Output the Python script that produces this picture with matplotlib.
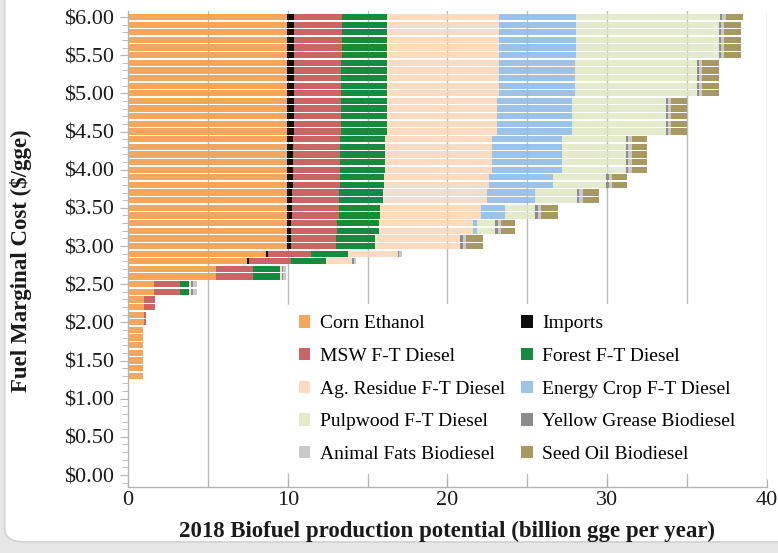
import numpy as np
import matplotlib.pyplot as plt
from matplotlib.patches import FancyBboxPatch
from matplotlib.ticker import MultipleLocator, FuncFormatter

# marginal cost steps ($/gge), top bar first
prices = [6.00, 5.90, 5.80, 5.70, 5.60, 5.50, 5.40, 5.30, 5.20, 5.10, 5.00,
          4.90, 4.80, 4.70, 4.60, 4.50, 4.40, 4.30, 4.20, 4.10, 4.00,
          3.90, 3.80, 3.70, 3.60, 3.50, 3.40, 3.30, 3.20, 3.10, 3.00,
          2.90, 2.80, 2.70, 2.60, 2.50, 2.40, 2.30, 2.20, 2.10, 2.00,
          1.90, 1.80, 1.70, 1.60, 1.50, 1.40, 1.30]

# billion gge per year supplied by each feedstock at each price
corn = [9.93, 9.93, 9.93, 9.93, 9.93, 9.93,
        9.93, 9.93, 9.93, 9.93, 9.93,
        9.93, 9.93, 9.93, 9.93, 9.93,
        9.93, 9.93, 9.93, 9.93, 9.93,
        9.93, 9.93, 9.93, 9.93,
        9.93, 9.93, 9.93, 9.93, 9.93, 9.93,
        8.62, 7.47, 5.51, 5.51, 1.65, 1.65,
        1.00, 1.00, 1.00, 1.00,
        0.96, 0.96, 0.96, 0.96, 0.96, 0.96, 0.96]
imports = [0.48, 0.48, 0.48, 0.48, 0.48, 0.48,
           0.47, 0.47, 0.47, 0.47, 0.47,
           0.45, 0.45, 0.45, 0.45, 0.45,
           0.42, 0.42, 0.42, 0.42, 0.42,
           0.38, 0.38, 0.36, 0.36,
           0.34, 0.34, 0.30, 0.30, 0.27, 0.27,
           0.12, 0.10, 0, 0, 0, 0,
           0, 0, 0, 0,
           0, 0, 0, 0, 0, 0, 0]
msw = [2.96, 2.96, 2.96, 2.96, 2.96, 2.96,
       2.95, 2.95, 2.95, 2.95, 2.95,
       2.95, 2.95, 2.95, 2.95, 2.95,
       2.95, 2.95, 2.95, 2.95, 2.95,
       2.94, 2.94, 2.93, 2.93,
       2.93, 2.93, 2.87, 2.87, 2.80, 2.80,
       2.69, 2.63, 2.29, 2.29, 1.60, 1.60,
       0.69, 0.69, 0.10, 0.10,
       0, 0, 0, 0, 0, 0, 0]
forest = [2.86, 2.86, 2.86, 2.86, 2.86, 2.86,
          2.87, 2.87, 2.87, 2.87, 2.87,
          2.87, 2.87, 2.87, 2.87, 2.87,
          2.80, 2.80, 2.80, 2.80, 2.80,
          2.75, 2.75, 2.76, 2.76,
          2.60, 2.60, 2.63, 2.63, 2.46, 2.46,
          2.32, 2.19, 1.71, 1.71, 0.59, 0.59,
          0, 0, 0, 0,
          0, 0, 0, 0, 0, 0, 0]
ag_residue = [7.01, 7.01, 7.01, 7.01, 7.01, 7.01,
              6.98, 6.98, 6.98, 6.98, 6.98,
              6.87, 6.87, 6.87, 6.87, 6.87,
              6.70, 6.70, 6.70, 6.70, 6.70,
              6.60, 6.60, 6.52, 6.52,
              6.30, 6.30, 5.87, 5.87, 5.34, 5.34,
              3.15, 1.65, 0.12, 0.12, 0.10, 0.10,
              0, 0, 0, 0,
              0, 0, 0, 0, 0, 0, 0]
energy_crop = [4.79, 4.79, 4.79, 4.79, 4.79, 4.79,
               4.77, 4.77, 4.77, 4.77, 4.77,
               4.71, 4.71, 4.71, 4.71, 4.71,
               4.34, 4.34, 4.34, 4.34, 4.34,
               4.00, 4.00, 3.00, 3.00,
               1.52, 1.52, 0.26, 0.26, 0, 0,
               0, 0, 0, 0, 0, 0,
               0, 0, 0, 0,
               0, 0, 0, 0, 0, 0, 0]
pulpwood = [9.02, 8.94, 8.94, 8.94, 8.94, 8.94,
            7.63, 7.63, 7.63, 7.63, 7.63,
            5.87, 5.87, 5.87, 5.87, 5.87,
            4.02, 4.02, 4.02, 4.02, 4.02,
            3.35, 3.35, 2.60, 2.60,
            1.88, 1.88, 1.11, 1.11, 0, 0,
            0, 0, 0, 0, 0, 0,
            0, 0, 0, 0,
            0, 0, 0, 0, 0, 0, 0]
yellow_grease = [0.16, 0.16, 0.16, 0.16, 0.16, 0.16,
                 0.16, 0.16, 0.16, 0.16, 0.16,
                 0.16, 0.16, 0.16, 0.16, 0.16,
                 0.16, 0.16, 0.16, 0.16, 0.16,
                 0.16, 0.16, 0.16, 0.16,
                 0.16, 0.16, 0.16, 0.16, 0.16, 0.16,
                 0.08, 0.08, 0.08, 0.08, 0.10, 0.10,
                 0, 0, 0, 0,
                 0, 0, 0, 0, 0, 0, 0]
animal_fats = [0.20, 0.20, 0.20, 0.20, 0.20, 0.20,
               0.20, 0.20, 0.20, 0.20, 0.20,
               0.20, 0.20, 0.20, 0.20, 0.20,
               0.20, 0.20, 0.20, 0.20, 0.20,
               0.20, 0.20, 0.20, 0.20,
               0.20, 0.20, 0.20, 0.20, 0.20, 0.20,
               0.20, 0.18, 0.15, 0.15, 0.25, 0.25,
               0, 0, 0, 0,
               0, 0, 0, 0, 0, 0, 0]
seed_oil = [1.09, 1.07, 1.07, 1.07, 1.07, 1.07,
            1.04, 1.04, 1.04, 1.04, 1.04,
            0.97, 0.97, 0.97, 0.97, 0.97,
            0.98, 0.98, 0.98, 0.98, 0.98,
            0.94, 0.94, 1.04, 1.04,
            1.04, 1.04, 0.87, 0.87, 1.04, 1.04,
            0, 0, 0, 0, 0, 0,
            0, 0, 0, 0,
            0, 0, 0, 0, 0, 0, 0]

series = [
    ('Corn Ethanol', corn, '#f4a75c'),
    ('Imports', imports, '#0d0d0d'),
    ('MSW F-T Diesel', msw, '#c96565'),
    ('Forest F-T Diesel', forest, '#168a3e'),
    ('Ag. Residue F-T Diesel', ag_residue, '#fbdcc2'),
    ('Energy Crop F-T Diesel', energy_crop, '#9cc2e8'),
    ('Pulpwood F-T Diesel', pulpwood, '#e4eacc'),
    ('Yellow Grease Biodiesel', yellow_grease, '#8c8c8c'),
    ('Animal Fats Biodiesel', animal_fats, '#c9c9c9'),
    ('Seed Oil Biodiesel', seed_oil, '#a69a62'),
]

plt.rcParams['font.family'] = ['Liberation Serif', 'DejaVu Serif']

fig = plt.figure(figsize=(7.78, 5.53), dpi=100)
fig.patch.set_facecolor('#e6e6e6')
card = FancyBboxPatch((0.006, 0.02), 1.2, 1.2,
                      boxstyle='round,pad=0,rounding_size=0.025',
                      transform=fig.transFigure, facecolor='white',
                      edgecolor='#d2d2d2', lw=1.2, zorder=-10)
fig.patches.append(card)

ax = fig.add_axes([128 / 778, 1 - 487 / 553, 639 / 778, 476 / 553])
ax.set_facecolor('white')

# gridlines every 5 behind the bars
for gx in range(5, 45, 5):
    ax.axvline(gx, color='#c4c4c4', lw=1.0, zorder=0)

left = np.zeros(len(prices))
handles = {}
for name, vals, color in series:
    vals = np.array(vals)
    bars = ax.barh(prices, vals, left=left, height=0.082, color=color,
                   edgecolor='none', zorder=2, label=name)
    handles[name] = bars
    left += vals

# faint gridlines showing through the bars
for gx in range(5, 40, 5):
    ax.axvline(gx, color='#808080', lw=0.8, alpha=0.12, zorder=3)

ax.set_xlim(0, 40)
ax.set_ylim(-0.157, 6.079)
ax.xaxis.set_major_locator(MultipleLocator(10))
ax.xaxis.set_minor_locator(MultipleLocator(5))
ax.yaxis.set_major_locator(MultipleLocator(0.5))
ax.yaxis.set_minor_locator(MultipleLocator(0.1))
ax.yaxis.set_major_formatter(FuncFormatter(lambda v, p: f'${v:.2f}'))

for side in ['top', 'right']:
    ax.spines[side].set_visible(False)
for side in ['left', 'bottom']:
    ax.spines[side].set_color('#b4b4b4')
    ax.spines[side].set_linewidth(1.0)

ax.tick_params(axis='both', which='both', colors='#b4b4b4', labelcolor='#1a1a1a')
ax.tick_params(axis='y', which='major', length=6, labelsize=16, pad=4)
ax.tick_params(axis='y', which='minor', length=4)
ax.tick_params(axis='x', which='both', direction='in', labelsize=16, pad=3)
ax.tick_params(axis='x', which='major', length=6)
ax.tick_params(axis='x', which='minor', length=4)

ax.set_xlabel('2018 Biofuel production potential (billion gge per year)',
              fontsize=16.5, fontweight='bold', labelpad=8, color='#1a1a1a')
ax.set_ylabel('Fuel Marginal Cost ($/gge)', fontsize=16.5, fontweight='bold',
              color='#1a1a1a')
ax.yaxis.set_label_coords(-0.150, 0.475)

order = ['Corn Ethanol', 'MSW F-T Diesel', 'Ag. Residue F-T Diesel',
         'Pulpwood F-T Diesel', 'Animal Fats Biodiesel',
         'Imports', 'Forest F-T Diesel', 'Energy Crop F-T Diesel',
         'Yellow Grease Biodiesel', 'Seed Oil Biodiesel']
leg = ax.legend([handles[n] for n in order], order, ncol=2,
                loc='upper left', bbox_to_anchor=(0.249, 0.385),
                frameon=True, facecolor='white', edgecolor='none',
                framealpha=1, fontsize=14, handlelength=0.6,
                handleheight=0.6, handletextpad=0.5, labelspacing=0.8,
                columnspacing=0.8, borderpad=0.6, borderaxespad=0)
leg.set_zorder(5)

fig.savefig('out.png', dpi=100, facecolor=fig.get_facecolor())
